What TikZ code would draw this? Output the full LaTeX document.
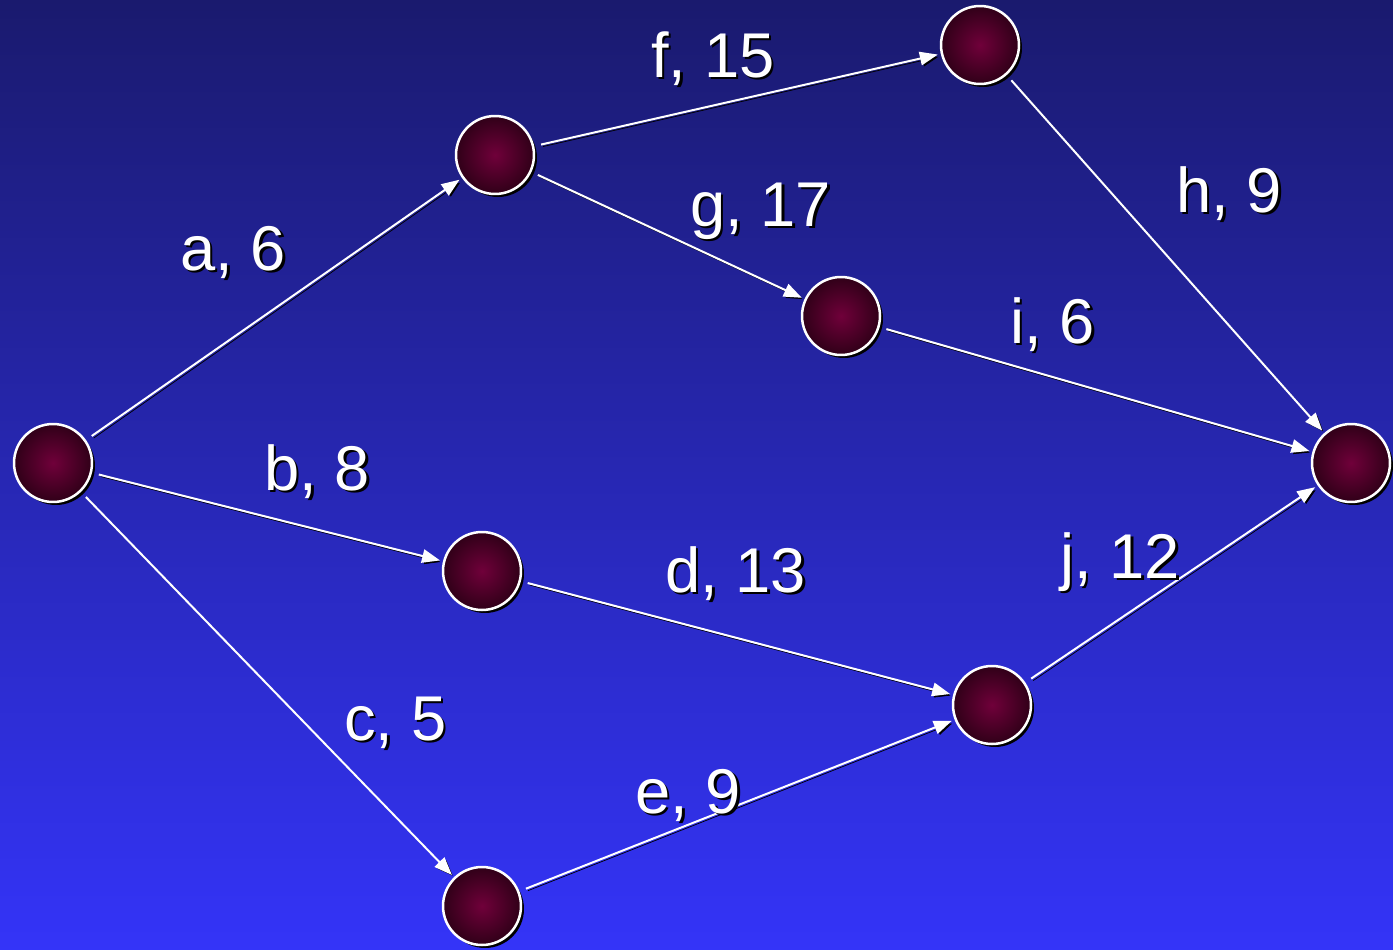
\documentclass[tikz,border=0pt]{standalone}
\usepackage{fontspec}
\setmainfont{Liberation Sans}
\usetikzlibrary{arrows.meta,shadows}
\definecolor{NightBlue}{RGB}{26,26,110}
\definecolor{BrightBlue}{RGB}{52,52,248}
\definecolor{WineCore}{RGB}{112,0,58}
\definecolor{WineEdge}{RGB}{48,0,24}
\newcommand{\shadedlabel}[1]{\makebox[0pt][l]{\hspace{0.05cm}\raisebox{-0.05cm}{\color{black}#1}}#1}
\tikzset{
  event/.style={circle,draw=white,line width=0.05cm,minimum size=1.56cm,
    inner color=WineCore,outer color=WineEdge,
    drop shadow={shadow xshift=0.06cm,shadow yshift=-0.06cm,opacity=1,fill=black}},
  activity/.style={-{Triangle[length=0.36cm,width=0.27cm]},white,line width=0.04cm,
    shorten <=0.14cm,shorten >=0.06cm,
    preaction={draw=black,transform canvas={shift={(0.04cm,-0.04cm)}}}},
  tag/.style={anchor=base west,inner sep=0pt,text=white,
    font=\fontsize{36}{42}\selectfont}
}
\begin{document}
\begin{tikzpicture}[x=0.02cm,y=-0.02cm]
  \shade[top color=NightBlue,bottom color=BrightBlue] (0,0) rectangle (1393,950);
  \useasboundingbox (0,0) rectangle (1393,950);
  % events
  \node[event] (start) at (53,463) {};
  \node[event] (up) at (495,155) {};
  \node[event] (top) at (980,45) {};
  \node[event] (mid) at (841,316) {};
  \node[event] (low) at (482,571) {};
  \node[event] (bot) at (482,906) {};
  \node[event] (join) at (992,705) {};
  \node[event] (finish) at (1351,463) {};
  % activities
  \draw[activity] (start) -- (up);
  \draw[activity] (start) -- (low);
  \draw[activity] (start) -- (bot);
  \draw[activity] (up) -- (top);
  \draw[activity] (up) -- (mid);
  \draw[activity] (top) -- (finish);
  \draw[activity] (mid) -- (finish);
  \draw[activity] (low) -- (join);
  \draw[activity] (bot) -- (join);
  \draw[activity] (join) -- (finish);
  % durations
  \node[tag] (ta) at (180,270) {\shadedlabel{a, 6}};
  \node[tag] (tb) at (264,490) {\shadedlabel{b, 8}};
  \node[tag] (tc) at (344,740) {\shadedlabel{c, 5}};
  \node[tag] (tf) at (651,77) {\shadedlabel{f, 15}};
  \node[tag] (tg) at (690,226) {\shadedlabel{g, 17}};
  \node[tag] (th) at (1176,212) {\shadedlabel{h, 9}};
  \node[tag] (ti) at (1010,343) {\shadedlabel{i, 6}};
  \node[tag] (td) at (665,592) {\shadedlabel{d, 13}};
  \node[tag] (tj) at (1060,578) {\shadedlabel{j, 12}};
  \node[tag] (te) at (635,813) {\shadedlabel{e, 9}};
\end{tikzpicture}
\end{document}
